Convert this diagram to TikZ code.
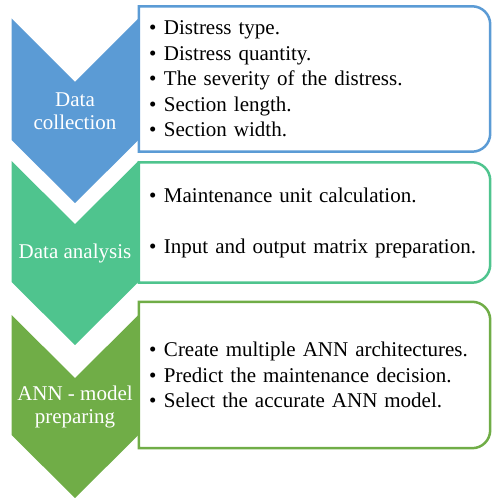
\documentclass[tikz,border=0pt]{standalone}
\usepackage{fontspec}
\setmainfont{Liberation Serif}
\usepackage{xcolor}
\usepackage{tikz}
\definecolor{CLBlue}{HTML}{5B9BD5}
\definecolor{CLMint}{HTML}{4FC48E}
\definecolor{CLGreen}{HTML}{70AD47}
\newcommand{\bul}{\makebox[15pt][l]{\textbullet}}
\begin{document}
\begin{tikzpicture}[
 x=1pt,y=1pt,
 chevtext/.style={align=center,text=white,font=\fontsize{21}{23}\selectfont,inner sep=0pt},
 box/.style={minimum width=351pt,minimum height=#1,inner xsep=10pt,inner ysep=0pt,text width=331pt,align=left,font=\fontsize{21}{25.5}\selectfont},
 boxline/.style={draw=#1,line width=2.5pt}
]
\useasboundingbox (0,0) rectangle (492,499);
% chevrons
\fill[CLBlue] (11.5,480.5) -- (75,417) -- (138.5,480.5) -- (138.5,359) -- (75,296) -- (11.5,359) -- cycle;
\fill[CLMint] (11.5,338) -- (75,275) -- (138.5,338) -- (138.5,217) -- (75,154) -- (11.5,217) -- cycle;
\fill[CLGreen] (11.5,184) -- (75,121) -- (138.5,184) -- (138.5,64) -- (75,1) -- (11.5,64) -- cycle;
\node[chevtext] (c1) at (75,388) {Data\\collection};
\node[chevtext] (c2) at (75,246) {Data analysis};
\node[chevtext] (c3) at (75,92) {ANN - model\\preparing};
% text boxes
\node[box=145pt] (b1) at (314.5,420) {\bul Distress type.\\\bul Distress quantity.\\\bul The severity of the distress.\\\bul Section length.\\\bul Section width.};
\node[box=120pt] (b2) at (314.5,276.5) {\bul Maintenance unit calculation.\\[25.5pt]\bul Input and output matrix preparation.};
\node[box=146pt] (b3) at (314.5,124) {\bul Create multiple ANN architectures.\\\bul Predict the maintenance decision.\\\bul Select the accurate ANN model.};
\draw[boxline=CLBlue] (b1.north west) -- ([xshift=-18pt]b1.north east) arc[start angle=90,end angle=0,radius=18pt] -- ([yshift=18pt]b1.south east) arc[start angle=0,end angle=-90,radius=18pt] -- (b1.south west) -- cycle;
\draw[boxline=CLMint] (b2.north west) -- ([xshift=-18pt]b2.north east) arc[start angle=90,end angle=0,radius=18pt] -- ([yshift=18pt]b2.south east) arc[start angle=0,end angle=-90,radius=18pt] -- (b2.south west) -- cycle;
\draw[boxline=CLGreen] (b3.north west) -- ([xshift=-18pt]b3.north east) arc[start angle=90,end angle=0,radius=18pt] -- ([yshift=18pt]b3.south east) arc[start angle=0,end angle=-90,radius=18pt] -- (b3.south west) -- cycle;
\end{tikzpicture}
\end{document}
